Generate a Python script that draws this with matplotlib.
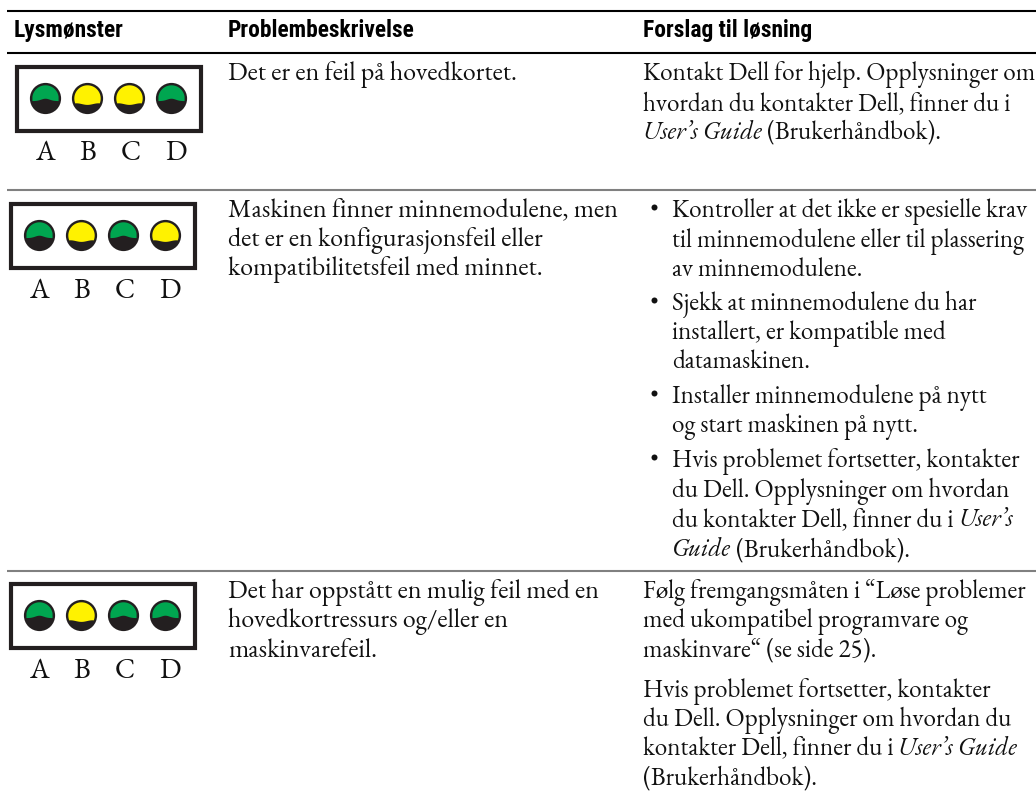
import numpy as np
import matplotlib
matplotlib.use("Agg")
import matplotlib.pyplot as plt
from matplotlib.patches import Circle, Polygon, Rectangle
from matplotlib import font_manager as fm

# ---------- content ----------
headers = ["Lysmønster", "Problembeskrivelse", "Forslag til løsning"]
led_names = ["A", "B", "C", "D"]
patterns = [
    ["green", "yellow", "yellow", "green"],
    ["green", "yellow", "green", "yellow"],
    ["green", "yellow", "green", "green"],
]
problem_lines = [
    (80, "Det er en feil på hovedkortet."),
    (217, "Maskinen finner minnemodulene, men"),
    (246, "det er en konfigurasjonsfeil eller"),
    (275, "kompatibilitetsfeil med minnet."),
    (598, "Det har oppstått en mulig feil med en"),
    (627, "hovedkortressurs og/eller en"),
    (657, "maskinvarefeil."),
]
# runs: (text, italic)
solution_plain = [
    (80, [("Kontakt Dell for hjelp. Opplysninger om", 0)]),
    (110, [("hvordan du kontakter Dell, finner du i", 0)]),
    (139, [("User’s Guide", 1), (" (Brukerhåndbok).", 0)]),
    (598, [("Følg fremgangsmåten i “Løse problemer", 0)]),
    (627, [("med ukompatibel programvare og", 0)]),
    (657, [("maskinvare“ (se side 25).", 0)]),
    (697, [("Hvis problemet fortsetter, kontakter", 0)]),
    (726, [("du Dell. Opplysninger om hvordan du", 0)]),
    (755, [("kontakter Dell, finner du i ", 0), ("User’s Guide", 1)]),
    (784, [("(Brukerhåndbok).", 0)]),
]
solution_bullets = [
    (217, True, [("Kontroller at det ikke er spesielle krav", 0)]),
    (247, False, [("til minnemodulene eller til plassering", 0)]),
    (276, False, [("av minnemodulene.", 0)]),
    (310, True, [("Sjekk at minnemodulene du har", 0)]),
    (339, False, [("installert, er kompatible med", 0)]),
    (368, False, [("datamaskinen.", 0)]),
    (403, True, [("Installer minnemodulene på nytt", 0)]),
    (432, False, [("og start maskinen på nytt.", 0)]),
    (467, True, [("Hvis problemet fortsetter, kontakter", 0)]),
    (497, False, [("du Dell. Opplysninger om hvordan", 0)]),
    (526, False, [("du kontakter Dell, finner du i ", 0), ("User’s", 1)]),
    (556, False, [("Guide", 1), (" (Brukerhåndbok).", 0)]),
]
# ---------- layout ----------
box_rows = [(15, 65), (9, 202), (9, 582)]
led_colors = {"green": "#00a650", "yellow": "#fff200"}
DARK = "#231f20"
BODY = 18.1
BODY_LEFT = 18.7

names = {f.name for f in fm.fontManager.ttflist}
def pick(*cands):
    for c in cands:
        if c in names:
            return c
    return "DejaVu Sans"
serif = pick("EB Garamond", "Cormorant Garamond", "Liberation Serif")
head_font = pick("Roboto Condensed", "Liberation Sans Narrow", "Liberation Sans")

fig = plt.figure(figsize=(10.36, 7.95), dpi=100)
ax = fig.add_axes([0, 0, 1, 1])
ax.set_xlim(0, 1036)
ax.set_ylim(795, 0)
ax.axis("off")

# rules
for y, c, lw in [(11, "black", 1.5), (53, "black", 1.5), (189.5, "#808080", 1.5), (570.5, "#808080", 1.5)]:
    ax.plot([7, 1036], [y, y], color=c, lw=lw, solid_capstyle="butt")

# headers
for x, h in zip([14, 228, 643], headers):
    ax.text(x, 37, h, fontfamily=head_font, fontweight="bold", fontsize=16.9, va="baseline", color="black")

def runs(x, y, parts, size=BODY):
    for s, it in parts:
        t = ax.text(x, y, s, fontfamily=serif, fontsize=size, va="baseline",
                    style="italic" if it else "normal", color="#111111")
        w = fig.canvas.get_renderer().get_text_width_height_descent(
            s.replace(" ", "\u00a0"), t.get_fontproperties(), False)[0]
        x += w

for y, s in problem_lines:
    runs(228, y, [(s, 0)], BODY_LEFT)
for y, parts in solution_plain:
    runs(643, y, parts)
for y, bullet, parts in solution_bullets:
    if bullet:
        ax.add_patch(Circle((654.5, y - 9.5), 3.0, fc="#111111", ec="none"))
    runs(672, y, parts)

# indicator panels
def dome(cx, cy, kind):
    R = 13.2
    if kind == "green":
        ang = np.radians(np.linspace(188, 352, 40))
        xs = R * np.cos(ang)
        ys = R * np.sin(ang)
        bx = np.linspace(xs[-1], xs[0], 20)
        by = 2.6 - 2.4 * np.exp(-(bx / 6.0) ** 2)
    else:
        ang = np.radians(np.linspace(160, 380, 50))
        xs = R * np.cos(ang)
        ys = R * np.sin(ang)
        bx = np.linspace(xs[-1], xs[0], 20)
        by = 5.6 + 0.8 * np.cos(bx / 3.5)
    pts = np.column_stack([np.r_[xs, bx] + cx, np.r_[ys, by] + cy])
    ax.add_patch(Polygon(pts, closed=True, fc=led_colors[kind], ec="none", zorder=4))

for (bx, by), pat in zip(box_rows, patterns):
    ax.add_patch(Rectangle((bx + 2, by + 2), 184, 63.5, fc="white", ec=DARK, lw=3.0))
    for i, (kind, nm) in enumerate(zip(pat, led_names)):
        cx = bx + 30.5 + 42 * i
        cy = by + 33.5
        ax.add_patch(Circle((cx, cy), 15.6, fc=DARK, ec="none", zorder=3))
        dome(cx, cy, kind)
        lx = bx + [30, 73, 115.5, 161][i]
        ax.text(lx, by + 95.5, nm, fontfamily=serif, fontsize=20.5, ha="center",
                va="baseline", color="#111111")

fig.savefig("out.png", dpi=100)
